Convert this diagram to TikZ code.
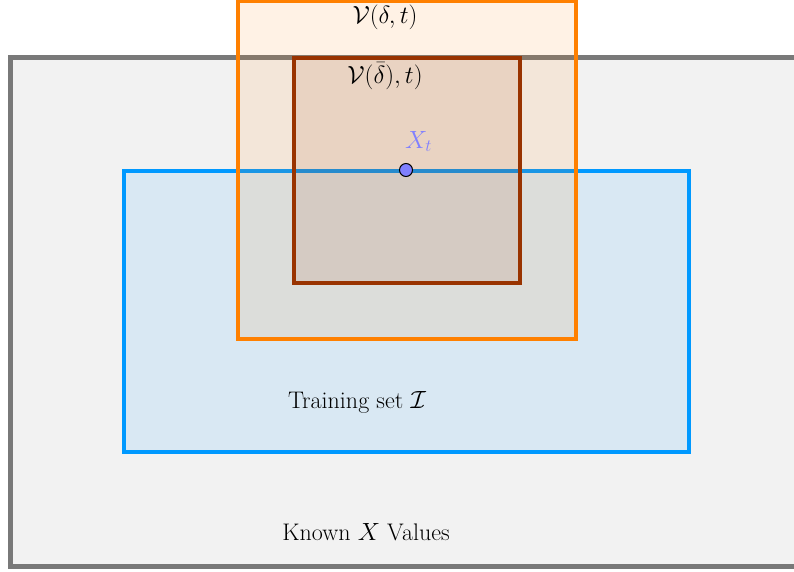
\documentclass[tikz,border=0pt]{standalone}
\usepackage{amsmath}
\begin{document}
\begin{tikzpicture}[x=1pt,y=-1pt,
  lbl/.style={font=\fontsize{24}{28}\selectfont, inner sep=0pt},
  graybox/.style={draw=gray!95!black, line width=5pt, fill=black!5},
  bluebox/.style={draw={rgb,255:red,0;green,153;blue,255}, line width=4pt, fill={rgb,255:red,0;green,153;blue,255}, fill opacity=0.1},
  orangebox/.style={draw={rgb,255:red,255;green,128;blue,0}, line width=4pt, fill={rgb,255:red,255;green,128;blue,0}, fill opacity=0.1},
  brownbox/.style={draw={rgb,255:red,153;green,51;blue,0}, line width=4pt, fill={rgb,255:red,153;green,51;blue,0}, fill opacity=0.1}]
\useasboundingbox (0,0) rectangle (794,571);
\clip (0,0) rectangle (794,571);
\definecolor{ptcol}{RGB}{128,128,255}
\draw[graybox] (10.5,57.5) rectangle (820,566);
\draw[bluebox] (123.5,170.5) rectangle (688.5,452);
\draw[orangebox] (237.5,0.5) rectangle (576,339);
\draw[brownbox] (294,57.5) rectangle (519.5,282.5);
\node[circle, draw=black, line width=1pt, fill=ptcol, minimum size=13pt, inner sep=0pt] (xt) at (406,170) {};
\node[lbl, text=ptcol, anchor=south west] (xtl) at (405,152) {$X_t$};
\node[lbl] (vd) at (385,17) {$\mathcal{V}(\delta,t)$};
\node[lbl] (vbd) at (385,76) {$\mathcal{V}(\bar{\delta}),t)$};
\node[lbl] (train) at (357,402) {Training set $\mathcal{I}$};
\node[lbl] (known) at (366,532) {Known $X$ Values};
\end{tikzpicture}
\end{document}
